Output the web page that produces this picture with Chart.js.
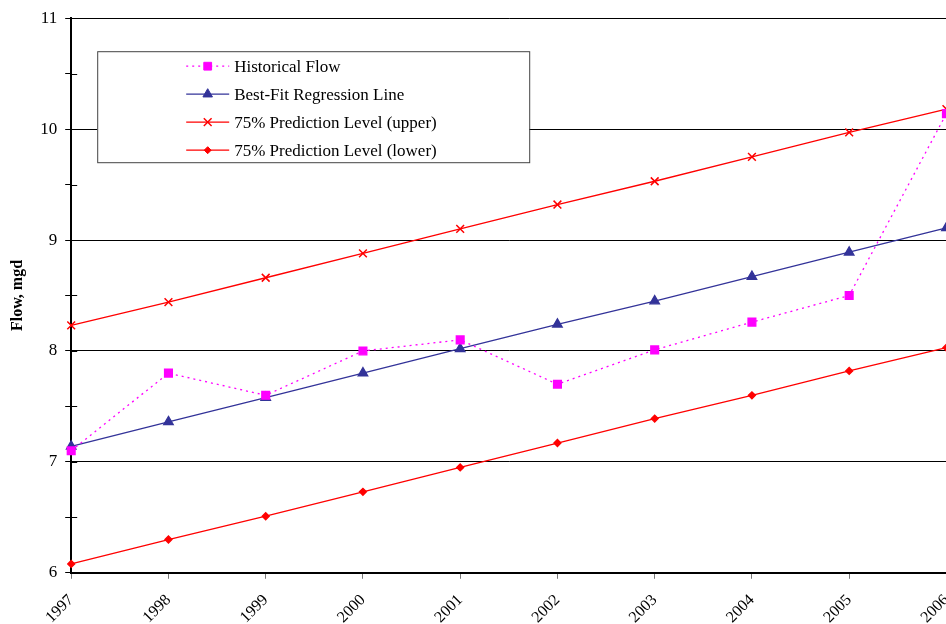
<!DOCTYPE html>
<html><head><meta charset="utf-8">
<script src="https://cdn.jsdelivr.net/npm/chart.js@4.4.1/dist/chart.umd.min.js"></script>
<style>html,body{margin:0;padding:0;background:#fff;overflow:hidden;width:946px;height:624px}</style>
</head><body>
<canvas id="c" width="972" height="645"></canvas>
<script>
const years = ['1997','1998','1999','2000','2001','2002','2003','2004','2005','2006'];
const historicalFlow = [7.10, 7.80, 7.60, 8.00, 8.10, 7.70, 8.01, 8.26, 8.50, 10.14];
const regressionLine = [7.14, 7.36, 7.58, 7.80, 8.02, 8.24, 8.45, 8.67, 8.89, 9.11];
const upperLevel = [8.23, 8.44, 8.66, 8.88, 9.10, 9.32, 9.53, 9.75, 9.97, 10.18];
const lowerLevel = [6.08, 6.30, 6.51, 6.73, 6.95, 7.17, 7.39, 7.60, 7.82, 8.03];
const yTicks = [6, 7, 8, 9, 10, 11];

const SERIF = '"Liberation Serif", "Times New Roman", serif';

const legendBox = {
  id: 'legendBox',
  afterDraw(chart) {
    const ctx = chart.ctx, a = chart.chartArea;
    // inward tick marks on the y axis
    const ys = chart.scales.y;
    ctx.save();
    ctx.strokeStyle = '#000'; ctx.lineWidth = 1;
    ys.ticks.forEach(t => {
      const py = Math.round(ys.getPixelForValue(t.value)) + 0.5;
      ctx.beginPath(); ctx.moveTo(a.left, py); ctx.lineTo(a.left + 6, py); ctx.stroke();
    });
    // legend
    const bx = a.left + 26, by = a.top + 33, bw = 432, bh = 111;
    ctx.fillStyle = '#fff';
    ctx.fillRect(bx, by, bw, bh);
    ctx.strokeStyle = '#444'; ctx.lineWidth = 1;
    ctx.strokeRect(bx + 0.5, by + 0.5, bw, bh);
    ctx.font = '17px ' + SERIF;
    ctx.textBaseline = 'middle';
    chart.data.datasets.forEach((ds, i) => {
      const cy = by + 15 + i * 28;
      const x0 = bx + 89, x1 = bx + 132;
      ctx.save();
      ctx.strokeStyle = ds.borderColor; ctx.lineWidth = ds.borderWidth;
      ctx.setLineDash(ds.borderDash || []);
      ctx.beginPath(); ctx.moveTo(x0, cy); ctx.lineTo(x1, cy); ctx.stroke();
      ctx.restore();
      ctx.save();
      ctx.fillStyle = ds.pointBackgroundColor; ctx.strokeStyle = ds.pointBorderColor;
      ctx.lineWidth = ds.pointBorderWidth || 1;
      Chart.helpers.drawPoint(ctx, {
        pointStyle: ds.pointStyle, radius: ds.pointRadius, rotation: 0,
        borderWidth: ds.pointBorderWidth || 1
      }, (x0 + x1) / 2, cy);
      ctx.restore();
      ctx.fillStyle = '#000';
      ctx.fillText(ds.label, bx + 137, cy + 1);
    });
    ctx.restore();
  }
};

const pointStyleColors = (c) => ({ pointBackgroundColor: c, pointBorderColor: c });

new Chart(document.getElementById('c'), {
  type: 'line',
  data: {
    labels: years,
    datasets: [
      { label: 'Historical Flow', data: historicalFlow, borderColor: '#FF00FF', backgroundColor: '#FF00FF',
        borderWidth: 1.3, borderDash: [2, 4], pointStyle: 'rect', pointRadius: 5.5, ...pointStyleColors('#FF00FF') },
      { label: 'Best-Fit Regression Line', data: regressionLine, borderColor: '#333399', backgroundColor: '#333399',
        borderWidth: 1.3, pointStyle: 'triangle', pointRadius: 5.5, ...pointStyleColors('#333399') },
      { label: '75% Prediction Level (upper)', data: upperLevel, borderColor: '#FF0000', backgroundColor: '#FF0000',
        borderWidth: 1.3, pointStyle: 'crossRot', pointRadius: 5.5, pointBorderWidth: 1.5, ...pointStyleColors('#FF0000') },
      { label: '75% Prediction Level (lower)', data: lowerLevel, borderColor: '#FF0000', backgroundColor: '#FF0000',
        borderWidth: 1.3, pointStyle: 'rectRot', pointRadius: 3.5, ...pointStyleColors('#FF0000') }
    ]
  },
  options: {
    responsive: false,
    animation: false,
    layout: { padding: { top: 10, right: 0, left: 8, bottom: 6 } },
    plugins: { legend: { display: false }, tooltip: { enabled: false } },
    elements: { line: { tension: 0 } },
    scales: {
      x: {
        offset: false,
        grid: { drawOnChartArea: false, tickColor: '#777', tickLength: 6 },
        border: { color: '#000', width: 2 },
        ticks: { autoSkip: false, maxRotation: 45, minRotation: 45, color: '#000', padding: 12,
          font: { family: SERIF, size: 16 } }
      },
      y: {
        min: 6, max: 11,
        afterBuildTicks: s => {
          const t = [];
          yTicks.forEach((v, i) => { t.push({ value: v }); if (i < yTicks.length - 1) t.push({ value: v + 0.5 }); });
          s.ticks = t;
        },
        grid: { color: ctx => (ctx.tick && Number.isInteger(ctx.tick.value)) ? '#000' : 'rgba(0,0,0,0)',
          tickColor: '#000', tickLength: 6, lineWidth: 1 },
        border: { color: '#000', width: 2 },
        ticks: { color: '#000', padding: 8, font: { family: SERIF, size: 17 },
          callback: v => Number.isInteger(v) ? String(v) : '' },
        title: { display: true, text: 'Flow, mgd', color: '#000', padding: { top: 0, bottom: 5 },
          font: { family: SERIF, size: 16, weight: 'bold' } }
      }
    }
  },
  plugins: [legendBox]
});
</script>
</body></html>
